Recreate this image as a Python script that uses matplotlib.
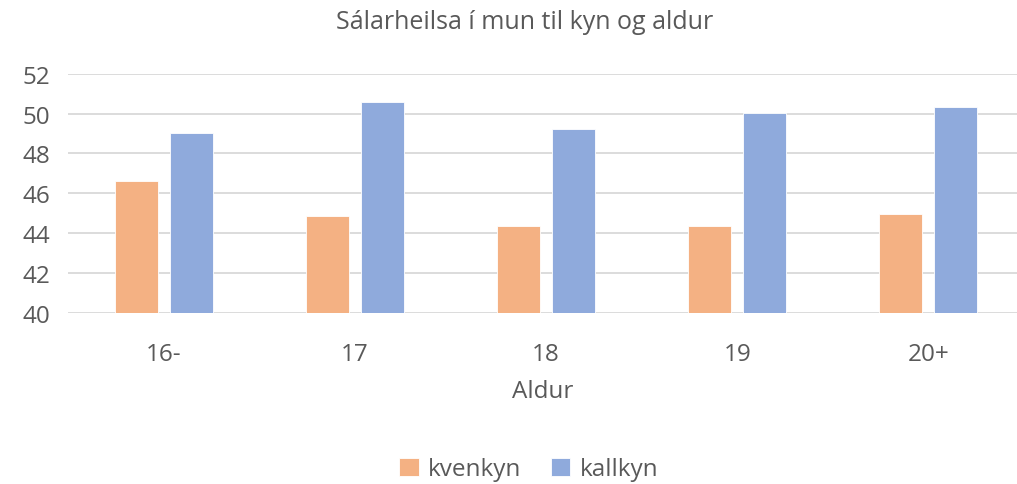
import matplotlib
matplotlib.use('Agg')
import matplotlib.pyplot as plt
import numpy as np

plt.rcParams['font.family'] = ['Open Sans', 'DejaVu Sans']

aldur = ['16-', '17', '18', '19', '20+']
kvenkyn = [46.6, 44.85, 44.38, 44.35, 44.95]
kallkyn = [49.02, 50.57, 49.25, 50.03, 50.35]

txt = '#595959'
fig = plt.figure(figsize=(10.17, 4.85), dpi=100)
ax = fig.add_axes([68 / 1017, (485 - 314) / 485, 1 - 68 / 1017, (314 - 74.7) / 485])

x = np.arange(len(aldur))
w = 0.225
ax.bar(x - 0.144, kvenkyn, w, color='#F4B183', edgecolor='white', linewidth=0.6, label='kvenkyn', zorder=2)
ax.bar(x + 0.144, kallkyn, w, color='#8FAADC', edgecolor='white', linewidth=0.6, label='kallkyn', zorder=2)

ax.set_ylim(40, 52)
ax.set_yticks(range(40, 53, 2))
ax.set_xlim(-0.5, 4.5 - 7 / 191)
ax.set_xticks(x)
ax.set_xticklabels(aldur)
ax.grid(axis='y', color='#d9d9d9', linewidth=1.3, zorder=0)
for s in ax.spines.values():
    s.set_visible(False)
ax.tick_params(length=0, labelsize=17.5, colors=txt)
ax.tick_params(axis='x', pad=21)
ax.tick_params(axis='y', pad=33)
for lab in ax.get_yticklabels():
    lab.set_horizontalalignment('left')

ax.set_xlabel('Aldur', fontsize=17.5, color=txt, labelpad=9)
fig.suptitle('Sálarheilsa í mun til kyn og aldur', x=0.516, y=0.98, fontsize=18, color=txt)

leg = fig.legend(loc='center', bbox_to_anchor=(0.52, 0.03), ncol=2, frameon=False,
                 fontsize=17.5, labelcolor=txt, handlelength=0.8, handleheight=0.8,
                 handletextpad=0.4, columnspacing=1.2)

fig.savefig('out.png', dpi=100)
